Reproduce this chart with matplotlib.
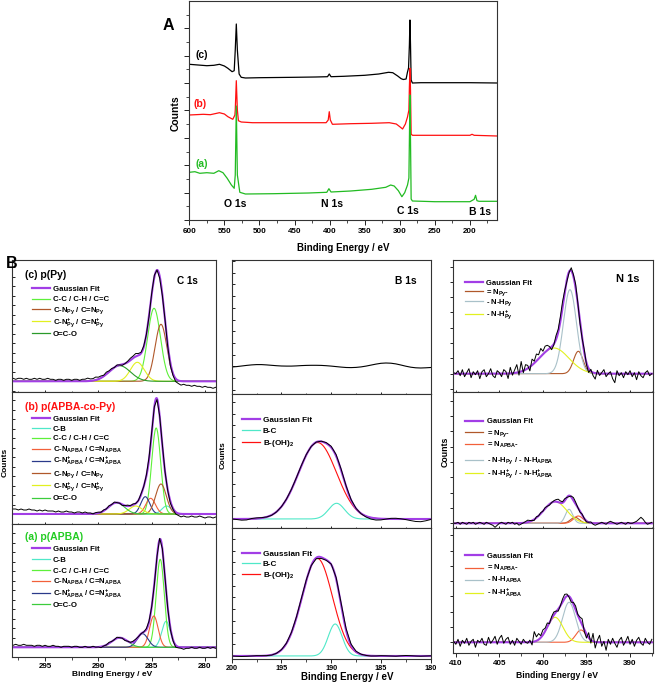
import numpy as np
import matplotlib
matplotlib.use("Agg")
import matplotlib.pyplot as plt
from matplotlib.lines import Line2D
from matplotlib.ticker import MultipleLocator

plt.rcParams['font.family'] = ['Liberation Sans', 'DejaVu Sans']
plt.rcParams['font.weight'] = 'bold'
plt.rcParams['mathtext.fontset'] = 'custom'
plt.rcParams['mathtext.rm'] = 'Liberation Sans:bold'
plt.rcParams['mathtext.bf'] = 'Liberation Sans:bold'
plt.rcParams['mathtext.default'] = 'bf'

# ---------------- A: survey spectra ----------------
survey_c_ev = [600, 575, 565, 557, 550, 545, 539, 536, 534.5, 533, 531.5, 529, 526, 520, 500, 450, 420, 403,
               400.5, 398, 380, 350, 330, 316, 310, 303, 298, 295, 291, 289, 287.5, 286.3, 285.5, 284.7, 283.8,
               282, 270, 250, 200, 161]
survey_c = [155.7, 154.3, 154.7, 155.7, 154, 151.7, 148.3, 149.3, 170, 196, 170, 146, 142.7, 142, 142.3, 142.7,
            143, 143.3, 146, 143.3, 143.7, 144.7, 146, 147.7, 147.3, 144, 141.3, 140.5, 141, 148, 152, 175, 200,
            175, 140, 137, 137.3, 137.3, 137.3, 137]
survey_b_ev = [600, 580, 570, 557, 550, 545, 538, 535, 534.5, 533, 531.5, 530, 526, 510, 450, 405, 402, 400.5,
               399, 396, 370, 340, 315, 305, 300, 296, 292, 289, 287, 286.3, 285.5, 284.7, 283.8, 282, 250, 200,
               197, 194, 161]
survey_b = [105, 105.7, 105.3, 107.3, 106, 103.3, 100.7, 105, 110, 139.3, 110, 99.3, 98, 97.3, 97.3, 97.3, 100,
            108.3, 100, 95.7, 96.3, 96.7, 97.3, 96, 93.3, 91, 96, 103, 110, 133, 151.7, 130, 86, 84.7, 84.7, 84.7,
            85.7, 84.7, 84]
survey_a_ev = [600, 592, 585, 575, 565, 558, 552, 546, 540, 536, 534.5, 533, 531.5, 528, 520, 480, 430, 404, 401,
               398, 370, 340, 320, 313, 308, 302, 297, 293, 289, 287, 286.3, 285.5, 284.7, 283.8, 282, 250, 200,
               194, 192, 190, 187, 161]
survey_a = [47.7, 48.3, 46.7, 47.3, 46.7, 49.3, 47.3, 41.7, 35, 31.7, 45, 114, 45, 27.7, 26, 26.3, 27, 27.7, 31.3,
            28, 29, 30.7, 32.7, 35, 34, 29.3, 23.3, 27.3, 35, 42, 80, 125, 80, 21, 19, 18.3, 18.3, 20.7, 24.7, 19.3,
            18.7, 18.7]

# ---------------- B: C 1s fits (center eV, sigma eV, height) ----------------
c1s_ev = np.linspace(298.0, 279.0, 77)

c1s_c_labels = ['C-C / C-H / C=C', r'C-N$_{Py}$ / C=N$_{Py}$', r'C-N$^{+}_{Py}$ / C=N$^{+}_{Py}$', 'O=C-O']
c1s_c_center = [284.78, 284.13, 286.35, 288.0]
c1s_c_sigma = [0.6, 0.55, 0.65, 1.0]
c1s_c_height = [73, 57, 19, 15.6]
c1s_c_resid = [3, 2, 3, 3, 2, 3, 2, 2, 3, 2, 3, 2, 2, 3, 2, 2, 1, 2, 2, 1, 2,
               2, 1, 2, 2, 1, 2, 2, 3, 2, 2, 3, 2, 2, 1, 2, 1,
               1, 0, 1, 0, -1, 0, 1, 2, 2, 3, 2, 1,
               1, 0, -1, 1, 2, 0, -2, -1, 0, -2, -3, -2,
               -3, -3, -4, -3, -4, -4, -5, -4, -5, -5, -6, -5, -6, -6, -7, -6]

c1s_b_labels = ['C-B', 'C-C / C-H / C=C', r'C-N$_{APBA}$ / C=N$_{APBA}$',
                r'C-N$^{+}_{APBA}$ / C=N$^{+}_{APBA}$', r'C-N$_{Py}$ / C=N$_{Py}$',
                r'C-N$^{+}_{Py}$ / C=N$^{+}_{Py}$', 'O=C-O']
c1s_b_center = [283.6, 284.58, 285.1, 285.6, 284.13, 286.5, 288.3]
c1s_b_sigma = [0.45, 0.42, 0.45, 0.42, 0.5, 0.6, 0.75]
c1s_b_height = [8, 86, 15.7, 17.3, 30, 8, 11.3]
c1s_b_resid = [5, 5, 4, 5, 4, 4, 5, 4, 4, 3, 4, 3, 4, 3, 3, 3, 2, 3, 2, 2, 3,
               2, 2, 1, 2, 2, 1, 2, 1, 1, 0, 1, 1, 0, 1, 0, 1,
               0, 1, 0, 0, -1, 0, 1, 0, 1, 0, 0, 1,
               0, 1, 2, 1, 0, -1, 0, 1, 0, -1, -2, -1,
               -2, -2, -3, -2, -3, -3, -2, -3, -3, -2, -3, -4, -3, -3, -4, -3]

c1s_a_labels = ['C-B', 'C-C / C-H / C=C', r'C-N$_{APBA}$ / C=N$_{APBA}$',
                r'C-N$^{+}_{APBA}$ / C=N$^{+}_{APBA}$', 'O=C-O']
c1s_a_center = [283.65, 284.2, 284.8, 285.85, 288.0]
c1s_a_sigma = [0.4, 0.38, 0.4, 0.5, 0.75]
c1s_a_height = [26, 88, 31.3, 13.6, 9.6]
c1s_a_resid = [2, 3, 2, 2, 3, 2, 2, 2, 1, 2, 2, 1, 2, 1, 1, 2, 1, 1, 0, 1, 1,
               1, 0, 1, 1, 0, 0, 1, 0, 0, 1, 0, 0, -1, 0, 0, 1,
               0, 0, 1, 0, 0, -1, 0, 0, 1, 1, 0, 0,
               0, 1, 1, 0, -1, 0, 1, 0, 0, -1, -2, -1,
               -2, -1, -1, -2, -1, -1, 0, -1, -1, 0, -1, -1, 0, -1, 0, -1]

# ---------------- B: B 1s ----------------
b1s_ev = np.linspace(200, 180, 41)
b1s_c_trace = [-0.7, -0.3, 0.3, 0.9, 1.4, 1.7, 1.7, 1.4, 1.0, 0.6, 0.3, 0.2, 0.2, 0.4, 0.7, 0.9, 1.0, 1.0, 0.9,
               0.6, 0.2, -0.3, -0.8, -1.2, -1.3, -1.1, -0.6, 0.2, 1.2, 2.2, 3.0, 3.3, 3.1, 2.4, 1.3, 0.1, -0.9,
               -1.5, -1.7, -1.5, -1.2]

b1s_labels = ['B-C', r'B-(OH)$_{2}$']
b1s_b_center = [189.46, 191.37]
b1s_b_sigma = [0.8, 1.9]
b1s_b_height = [15.7, 76.5]
b1s_b_resid = [0, -0.5, -1.2, -1.0, 0.3, 0.7, 0.4, 0, -0.3, -0.2, 0, 0.2, 0.3, 0.5, 0.6, 0.5, 0.2, 0, 0.3, 0.8,
               1.2, 1.5, 1.4, 1.0, 0.6, 0.2, -0.3, -0.9, -1.5, -1.7, -1.2, -0.2, 0.6, 0.7, 0.2, -0.6, -1.6, -2.5,
               -2.7, -1.8, -0.5]
b1s_a_center = [189.6, 191.4]
b1s_a_sigma = [0.7, 1.53]
b1s_a_height = [32, 97.7]
b1s_a_resid = [0, -0.3, -0.5, -0.3, 0, 0.3, 0.2, 0, -0.2, 0, 0.2, 0.3, 0.5, 0.8, 1.0, 0.8, 0, -1.0, -1.2, -0.5,
               0.5, 1.5, 2.0, 1.8, 1.2, 0.6, 0.2, 0, -0.2, 0, 0.3, 0.2, 0, -0.2, 0.2, 0.5, 0.3, 0, -0.2, 0, 0.2]

# ---------------- B: N 1s ----------------
n1s_ev = np.linspace(410.25, 387.5, 92)

n1s_c_labels = [r'= N$_{Py}$-', r'- N-H$_{Py}$', r'- N-H$^{+}_{Py}$']
n1s_c_center = [395.94, 396.9, 398.73]
n1s_c_sigma = [0.55, 0.75, 1.7]
n1s_c_height = [22.4, 84, 25.7]
n1s_c_noise = [1, 0, 3, -2, 4, -3, 1, 5, -4, 2, -1, 3, -5, 2, 4, -3, 0, 5, -2, -4, 3, 1,
               -3, 4, 2, -5, 6, -2, 3, 8, -3, 10, -2, 5, 3, -4, 6, 2, 7, 4, 8, 3,
               6, 5, 2, -3, -1, 4, 3, 5, 6, 2, -2, -1, 3, 2, 4, 1, -2, 0, 3, -2,
               -4, 2, -3, -6, 3, -2, 1, 4, -3, 0, 2, -5, -9, 3, -2, 1, -4, 2, -1, 3,
               -3, 1, -6, 2, -2, -4, 1, 3, -2, 0]

n1s_b_labels = [r'= N$_{Py}$-', r'= N$_{APBA}$-', r'- N-H$_{Py}$ / - N-H$_{APBA}$',
                r'- N-H$^{+}_{Py}$ / - N-H$^{+}_{APBA}$']
n1s_b_center = [396.32, 395.94, 397.0, 398.6]
n1s_b_sigma = [0.5, 0.55, 0.42, 1.3]
n1s_b_height = [6, 7.3, 14, 21.7]
n1s_b_noise = [0, 0, 1, -1, 1, 0, -1, 1, 0, 1, -1, 0, 1, 0, -1, 1, 0, -1, -2, -4, -2, 0,
               1, 0, -1, 1, 0, 1, -1, 0, -2, -1, 0, 1, 2, 1, 0, -1, 1, 0, 1, 0,
               1, 0, -1, 0, 1, 2, 3, 2, 1, 2, 0, -1, 1, 3, 2, 0, -1, 1, 0, -1,
               0, 1, -1, -2, -1, 0, 1, 0, -1, 1, 2, 1, 0, -1, 0, 1, 0, -1, 1, 0,
               0, 1, 2, 4, 6, 4, 1, -1, 0, 1]

n1s_a_labels = [r'= N$_{APBA}$-', r'- N-H$_{APBA}$', r'- N-H$^{+}_{APBA}$']
n1s_a_center = [395.63, 397.0, 398.6]
n1s_a_sigma = [0.6, 0.75, 0.9]
n1s_a_height = [12.3, 40, 25]
n1s_a_noise = [1, -2, 3, -4, 2, -1, 4, -3, 1, 3, -5, 2, 0, 4, -2, -3, 5, -1, 2, 6, -2, 4,
               7, -1, 3, 5, -2, 2, -3, 4, 1, -2, 3, 0, -1, 2, -3, 10, 4, 6, 2, 5,
               3, 4, -1, 2, 3, 1, -2, 0, 3, 4, 2, -1, -3, 2, 4, 1, 3, 6, -2, -4,
               5, -3, 8, -6, 2, 7, -4, 1, -8, 3, -2, 4, -1, -5, 2, 5, -3, 1, 6, -2,
               3, -4, 2, 5, -1, -3, 4, 0, -2, 3]

# ---------------- styles ----------------
PURPLE = '#a23ee6'
GREEN = '#5ef03a'
BROWN = '#b0582a'
YELLOW = '#e2f020'
DGREEN = '#2a9a2a'
MGREEN = '#3ccc3c'
CYAN = '#4fe8c8'
ORANGE = '#f2603a'
NAVY = '#2a3a8a'
GREY = '#a9c1c9'

W, H = 657, 685
fig = plt.figure(figsize=(6.57, 6.85), dpi=100)


def box(l, t, r, b):
    return [l / W, 1 - b / H, (r - l) / W, (b - t) / H]


def put(x, y, s, **kw):
    fig.text(x / W, 1 - y / H, s, **kw)


def gauss(x, c, s, h):
    return h * np.exp(-0.5 * ((np.asarray(x) - c) / s) ** 2)


def draw_fit(ax, ev, centers, sigmas, heights, colors, resid):
    fine = np.linspace(ev[0], ev[-1], 800)
    comps = [gauss(fine, c, s, h) for c, s, h in zip(centers, sigmas, heights)]
    for comp, col in zip(comps, colors):
        ax.plot(fine, comp, color=col, lw=0.8)
    ax.plot(fine, np.sum(comps, axis=0), color=PURPLE, lw=1.5)
    raw = np.sum([gauss(ev, c, s, h) for c, s, h in zip(centers, sigmas, heights)], axis=0) + np.asarray(resid)
    ax.plot(ev, raw, color='black', lw=0.7)


def legend_rows(x0, x1, xt, ys, labels, colors, size):
    for y, lab, col in zip(ys, labels, colors):
        lw = 1.6 if col == PURPLE else 0.9
        fig.add_artist(Line2D([x0 / W, x1 / W], [1 - y / H, 1 - y / H], color=col, lw=lw))
        put(xt, y + 0.36 * size * 100 / 72, lab, fontsize=size, va='baseline', ha='left')


def style(ax, xlim, ylim, ystep, xmaj, xmin, bottom, ydir, labsize):
    ax.set_xlim(*xlim)
    ax.set_ylim(*ylim)
    ax.xaxis.set_major_locator(MultipleLocator(xmaj))
    ax.xaxis.set_minor_locator(MultipleLocator(xmin))
    ax.yaxis.set_major_locator(MultipleLocator(ystep))
    ax.tick_params(axis='y', direction=ydir, length=2.5, width=0.6, labelleft=False)
    ax.tick_params(axis='x', which='major', length=3, width=0.6, labelsize=labsize, pad=1.5,
                   direction='out' if bottom else 'inout', labelbottom=bottom)
    ax.tick_params(axis='x', which='minor', length=2, width=0.5,
                   direction='out' if bottom else 'inout')
    for sp in ax.spines.values():
        sp.set_linewidth(0.8)
        sp.set_color('#333333')


# ---------------- panel A ----------------
axA = fig.add_axes(box(189.3, 1, 497.3, 220))
axA.plot(survey_c_ev, survey_c, color='black', lw=0.9)
axA.plot(survey_b_ev, survey_b, color='#ff1010', lw=0.9)
axA.plot(survey_a_ev, survey_a, color='#22bb22', lw=0.9)
axA.set_xlim(600, 161)
axA.set_ylim(0, 219)
axA.xaxis.set_major_locator(MultipleLocator(50))
axA.xaxis.set_minor_locator(MultipleLocator(25))
axA.yaxis.set_major_locator(MultipleLocator(27.4))
axA.yaxis.set_minor_locator(MultipleLocator(13.7))
axA.tick_params(axis='both', which='major', length=3.5, width=0.6, labelsize=5.8, pad=2)
axA.tick_params(axis='both', which='minor', length=2, width=0.5)
axA.tick_params(axis='y', labelleft=False)
for sp in axA.spines.values():
    sp.set_linewidth(0.8)
    sp.set_color('#333333')

put(168.3, 25, 'A', fontsize=11.5, ha='center', va='center')
put(176, 113, 'Counts', fontsize=7.5, rotation=90, ha='center', va='center')
put(343, 248, 'Binding Energy / eV', fontsize=7, ha='center', va='center')
put(201.7, 55, '(c)', fontsize=7.5, ha='center', va='center')
put(200, 104.3, '(b)', fontsize=7.5, ha='center', va='center', color='#ff1010')
put(201.7, 164, '(a)', fontsize=7.5, ha='center', va='center', color='#22bb22')
put(235, 204, 'O 1s', fontsize=7.5, ha='center', va='center')
put(332.3, 204, 'N 1s', fontsize=7.5, ha='center', va='center')
put(408.3, 210.7, 'C 1s', fontsize=7.5, ha='center', va='center')
put(480, 211.7, 'B 1s', fontsize=7.5, ha='center', va='center')
put(12, 264, 'B', fontsize=11.5, ha='center', va='center')

# ---------------- C 1s column ----------------
c1_rows = [(260, 392, (-10.7, 121.3)), (392, 524, (-10, 122)), (524, 657, (-9.7, 123.3))]
c1_sets = [(c1s_c_center, c1s_c_sigma, c1s_c_height, [GREEN, BROWN, YELLOW, DGREEN], c1s_c_resid),
           (c1s_b_center, c1s_b_sigma, c1s_b_height, [CYAN, GREEN, ORANGE, NAVY, BROWN, YELLOW, MGREEN], c1s_b_resid),
           (c1s_a_center, c1s_a_sigma, c1s_a_height, [CYAN, GREEN, ORANGE, NAVY, MGREEN], c1s_a_resid)]
for i, ((t, b, yl), (cc, ss, hh, cols, rr)) in enumerate(zip(c1_rows, c1_sets)):
    ax = fig.add_axes(box(12.3, t, 216, b))
    draw_fit(ax, c1s_ev, cc, ss, hh, cols, rr)
    style(ax, (298.07, 278.97), yl, 9.5, 5, 2.5, i == 2, 'in', 5.8)

put(25, 275, '(c) p(Py)', fontsize=7.5, ha='left', va='center')
put(187, 281, 'C 1s', fontsize=7.2, ha='center', va='center')
legend_rows(32, 50, 52.7, [288.3, 298.5, 309.3, 321, 333.3], ['Gaussian Fit'] + c1s_c_labels,
            [PURPLE, GREEN, BROWN, YELLOW, DGREEN], 5.6)
put(25, 406.7, '(b) p(APBA-co-Py)', fontsize=7.5, ha='left', va='center', color='#ff1010')
legend_rows(32, 50, 52.7, [418, 428, 437.5, 448.5, 460.5, 472.5, 485, 497.5], ['Gaussian Fit'] + c1s_b_labels,
            [PURPLE, CYAN, GREEN, ORANGE, NAVY, BROWN, YELLOW, MGREEN], 5.6)
put(25, 536.7, '(a) p(APBA)', fontsize=7.5, ha='left', va='center', color='#22cc22')
legend_rows(32, 50, 52.7, [548.3, 559, 570, 581, 593.3, 604.3], ['Gaussian Fit'] + c1s_a_labels,
            [PURPLE, CYAN, GREEN, ORANGE, NAVY, MGREEN], 5.6)
put(5, 462, 'Counts', fontsize=6, rotation=90, ha='center', va='center')
put(112, 675, 'Binding Energy / eV', fontsize=6, ha='center', va='center')

# ---------------- B 1s column ----------------
ax = fig.add_axes(box(231.7, 260, 430.7, 394.3))
ax.plot(b1s_ev, b1s_c_trace, color='black', lw=0.8)
style(ax, (200, 180), (-28, 106.3), 11.7, 5, 2.5, False, 'in', 5.2)
ax = fig.add_axes(box(231.7, 394.3, 430.7, 528.3))
draw_fit(ax, b1s_ev, b1s_b_center, b1s_b_sigma, b1s_b_height, [CYAN, '#ff1010'], b1s_b_resid)
style(ax, (200, 180), (-9.3, 124.7), 11.7, 5, 2.5, False, 'in', 5.2)
ax = fig.add_axes(box(231.7, 528.3, 430.7, 659.3))
draw_fit(ax, b1s_ev, b1s_a_center, b1s_a_sigma, b1s_a_height, [CYAN, '#ff1010'], b1s_a_resid)
style(ax, (200, 180), (-3.3, 127.7), 11.7, 5, 2.5, True, 'in', 5.2)
ax.tick_params(axis='x', which='major', pad=1)

put(406, 281, 'B 1s', fontsize=7.4, ha='center', va='center')
legend_rows(241.7, 260, 262.7, [419.3, 430, 441.7], ['Gaussian Fit'] + b1s_labels,
            [PURPLE, CYAN, '#ff1010'], 5.9)
legend_rows(241.7, 260, 262.7, [552.7, 563.3, 574.3], ['Gaussian Fit'] + b1s_labels,
            [PURPLE, CYAN, '#ff1010'], 5.9)
put(223.3, 455, 'Counts', fontsize=5.8, rotation=90, ha='center', va='center')
put(347, 677, 'Binding Energy / eV', fontsize=7, ha='center', va='center')

# ---------------- N 1s column ----------------
n_rows = [(260, 392.3, (-18.6, 113.7)), (392.3, 528, (-4.7, 131)), (528, 653.3, (-11, 114.3))]
n_sets = [(n1s_c_center, n1s_c_sigma, n1s_c_height, [BROWN, GREY, YELLOW], n1s_c_noise),
          (n1s_b_center, n1s_b_sigma, n1s_b_height, [BROWN, ORANGE, GREY, YELLOW], n1s_b_noise),
          (n1s_a_center, n1s_a_sigma, n1s_a_height, [ORANGE, GREY, YELLOW], n1s_a_noise)]
for i, ((t, b, yl), (cc, ss, hh, cols, rr)) in enumerate(zip(n_rows, n_sets)):
    ax = fig.add_axes(box(452.7, t, 652.7, b))
    draw_fit(ax, n1s_ev, cc, ss, hh, cols, rr)
    style(ax, (410.36, 387.4), yl, 15.3, 5, 2.5, i == 2, 'out', 5.8)

put(628, 279, 'N 1s', fontsize=8, ha='center', va='center')
legend_rows(465, 483.3, 485.7, [282, 291.5, 301.5, 313.5], ['Gaussian Fit'] + n1s_c_labels,
            [PURPLE, BROWN, GREY, YELLOW], 5.5)
legend_rows(465, 483.3, 486.7, [420.7, 431.7, 444.3, 459.5, 472.5], ['Gaussian Fit'] + n1s_b_labels,
            [PURPLE, BROWN, ORANGE, GREY, YELLOW], 5.5)
legend_rows(465, 483.3, 486.7, [555, 567.5, 579.5, 592.5], ['Gaussian Fit'] + n1s_a_labels,
            [PURPLE, ORANGE, GREY, YELLOW], 5.5)
put(445, 452, 'Counts', fontsize=6.3, rotation=90, ha='center', va='center')
put(557, 676, 'Binding Energy / eV', fontsize=6.2, ha='center', va='center')

fig.savefig('out.png', dpi=100)
